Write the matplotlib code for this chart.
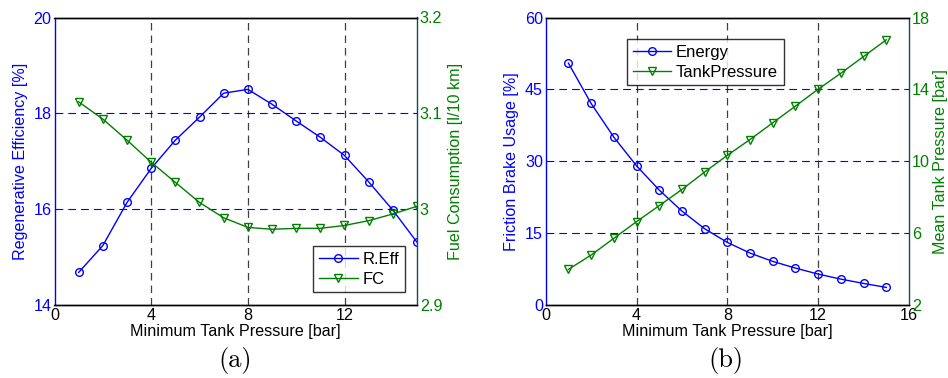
import matplotlib
matplotlib.use("Agg")
import matplotlib.pyplot as plt
import numpy as np

plt.rcParams['font.family'] = ['Liberation Sans', 'DejaVu Sans']

# ---- data ----
pressure = [1, 2, 3, 4, 5, 6, 7, 8, 9, 10, 11, 12, 13, 14, 15]
reg_eff = [14.68, 15.24, 16.14, 16.85, 17.44, 17.92, 18.42, 18.50, 18.19,
           17.84, 17.50, 17.12, 16.57, 15.98, 15.31]
fuel_cons = [3.112, 3.094, 3.072, 3.049, 3.028, 3.007, 2.991, 2.981, 2.979,
             2.980, 2.980, 2.983, 2.988, 2.995, 3.003]
brake_energy = [50.47, 42.06, 35.03, 29.05, 23.98, 19.6, 15.91, 13.06, 10.83,
                9.1, 7.7, 6.45, 5.4, 4.5, 3.67]
tank_pressure = [3.98, 4.78, 5.71, 6.64, 7.53, 8.43, 9.40, 10.33, 11.21,
                 12.14, 13.07, 14.01, 14.90, 15.83, 16.76]

xticks_a = [0, 4, 8, 12]
xticks_b = [0, 4, 8, 12, 16]
yticks_a = [14, 16, 18, 20]
yticks_a2 = [2.9, 3.0, 3.1, 3.2]
ytick_a2_labels = ['2.9', '3', '3.1', '3.2']
yticks_b = [0, 15, 30, 45, 60]
yticks_b2 = [2, 6, 10, 14, 18]

BLUE = (0, 0, 1)
GREEN = (0, 0.5, 0)
FS = 11.6

fig = plt.figure(figsize=(9.48, 3.78), dpi=100)
W, H = 948, 378


def ax_rect(x0, x1, y0, y1):
    return [x0 / W, 1 - y1 / H, (x1 - x0) / W, (y1 - y0) / H]


def style(ax, ax2, xticks, xlim, yt, ylim, yt2, ylim2, yt2labels=None):
    ax.set_xlim(*xlim)
    ax.set_ylim(*ylim)
    ax2.set_ylim(*ylim2)
    ax.set_xticks(xticks)
    ax.set_yticks(yt)
    ax2.set_yticks(yt2)
    if yt2labels is not None:
        ax2.set_yticklabels(yt2labels)
    ax.tick_params(axis='both', direction='in', length=0, labelsize=FS, pad=2)
    ax.tick_params(axis='y', colors=BLUE)
    ax.tick_params(axis='x', colors='black')
    ax2.tick_params(axis='y', direction='in', length=0, labelsize=FS, pad=2, colors=GREEN)
    ax.spines['left'].set_color(BLUE)
    ax.spines['right'].set_visible(False)
    ax2.spines['left'].set_visible(False)
    ax2.spines['right'].set_color('#104e50')
    for a in (ax, ax2):
        for s in a.spines.values():
            s.set_linewidth(1.0)
    for x in xticks[1:]:
        if x < xlim[1]:
            ax.axvline(x, color='#404040', ls=(0, (6, 4)), lw=0.9, zorder=0.5)
    for y in yt[1:-1]:
        ax.axhline(y, color=BLUE, ls=(0, (7, 4.5)), lw=0.8, zorder=0.5)


# ---- (a) ----
axa = fig.add_axes(ax_rect(54.5, 417, 17.5, 305))
axa2 = axa.twinx()
la, = axa.plot(pressure, reg_eff, '-o', color=BLUE, mfc='none', ms=5.5, lw=1.0, mew=1.0, label='R.Eff')
lb, = axa2.plot(pressure, fuel_cons, '-v', color=GREEN, mfc='none', ms=6, lw=1.0, mew=1.0, label='FC')
style(axa, axa2, xticks_a, (0, 15), yticks_a, (14, 20), yticks_a2, (2.9, 3.2), ytick_a2_labels)
axa.set_ylabel('Regenerative Efficiency [%]', color=BLUE, fontsize=FS, labelpad=4)
axa2.set_ylabel('Fuel Consumption [l/10 km]', color=GREEN, fontsize=FS, labelpad=4)
axa.set_xlabel('Minimum Tank Pressure [bar]', fontsize=FS, labelpad=1)
leg = axa2.legend([la, lb], ['R.Eff', 'FC'], loc='lower right', bbox_to_anchor=(0.99, 0.015),
                  fontsize=FS + 0.4, frameon=True, fancybox=False, edgecolor='black',
                  handlelength=2.3, borderpad=0.35, labelspacing=0.3, handletextpad=0.3)
leg.get_frame().set_linewidth(1.0)

# ---- (b) ----
axb = fig.add_axes(ax_rect(545.7, 909, 17.5, 305))
axb2 = axb.twinx()
lc, = axb.plot(pressure, brake_energy, '-o', color=BLUE, mfc='none', ms=5.5, lw=1.0, mew=1.0, label='Energy')
ld, = axb2.plot(pressure, tank_pressure, '-v', color=GREEN, mfc='none', ms=6, lw=1.0, mew=1.0, label='TankPressure')
style(axb, axb2, xticks_b, (0, 16), yticks_b, (0, 60), yticks_b2, (2, 18))
axb.set_ylabel('Friction Brake Usage [%]', color=BLUE, fontsize=FS, labelpad=4)
axb2.set_ylabel('Mean Tank Pressure [bar]', color=GREEN, fontsize=FS, labelpad=2)
axb.set_xlabel('Minimum Tank Pressure [bar]', fontsize=FS, labelpad=1)
leg2 = axb2.legend([lc, ld], ['Energy', 'TankPressure'], loc='upper left', bbox_to_anchor=(0.2, 0.955),
                   fontsize=FS + 0.4, frameon=True, fancybox=False, edgecolor='black',
                   handlelength=2.3, borderpad=0.35, labelspacing=0.3, handletextpad=0.3)
leg2.get_frame().set_linewidth(1.0)

fig.text(235 / W, 1 - 361 / H, '(a)', family='cmr10', fontsize=19, ha='center', va='center')
fig.text(726 / W, 1 - 361 / H, '(b)', family='cmr10', fontsize=19, ha='center', va='center')

fig.savefig('out.png', dpi=100)
